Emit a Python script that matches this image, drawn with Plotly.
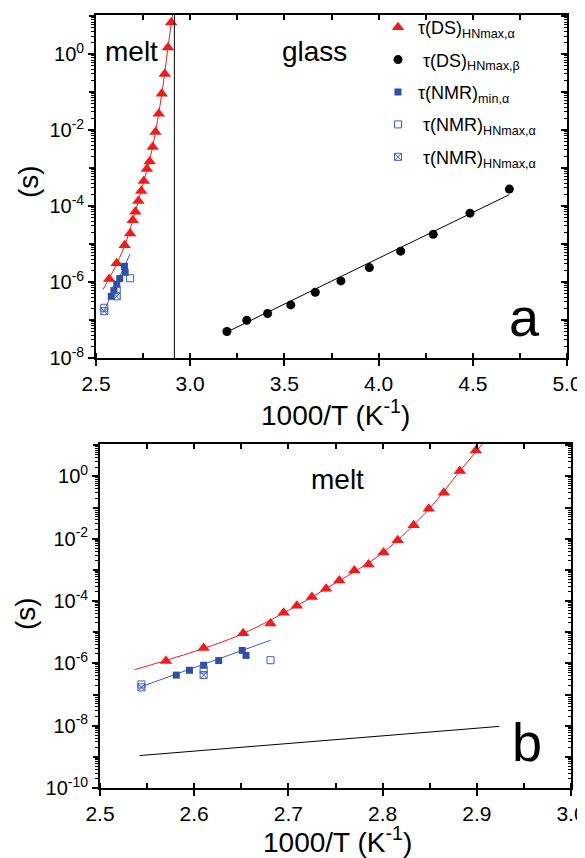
import plotly.graph_objects as go

# ---------------- data ----------------
# tau(DS) HN max, alpha process
ds_alpha_x = [2.570, 2.610, 2.652, 2.681, 2.695, 2.709, 2.725, 2.740, 2.754,
              2.770, 2.785, 2.801, 2.816, 2.833, 2.849, 2.865, 2.882, 2.899]
ds_alpha_tau = [1.2e-6, 3.1e-6, 9.3e-6, 1.9e-5, 4.2e-5, 7.1e-5, 1.35e-4, 2.5e-4, 4.6e-4,
                9.5e-4, 1.5e-3, 3.6e-3, 8.9e-3, 2.7e-2, 9.1e-2, 0.30, 1.5, 6.8]
# VFT fit curve for alpha
ds_alpha_fit_x = [2.537, 2.600, 2.650, 2.700, 2.750, 2.800, 2.850, 2.880, 2.906]
ds_alpha_fit_tau = [6.3e-7, 2.4e-6, 8.5e-6, 5.0e-5, 3.8e-4, 3.5e-3, 9.5e-2, 1.25, 11.0]

# tau(DS) HN max, beta process
ds_beta_x = [3.195, 3.300, 3.411, 3.534, 3.664, 3.800, 3.951, 4.117, 4.290, 4.485, 4.694]
ds_beta_tau = [5.0e-8, 9.8e-8, 1.48e-7, 2.5e-7, 5.4e-7, 1.07e-6, 2.4e-6, 6.5e-6,
               1.8e-5, 6.5e-5, 2.8e-4]
ds_beta_fit_x = [3.186, 4.694]
ds_beta_fit_tau = [4.6e-8, 2.0e-4]
# extrapolated Arrhenius line shown in panel b
ds_beta_ext_x = [2.542, 2.924]
ds_beta_ext_tau = [1.1e-9, 9.5e-9]

# tau(NMR) min, alpha
nmr_min_x = [2.581, 2.595, 2.610, 2.626, 2.651, 2.655]
nmr_min_tau = [4.2e-7, 6.0e-7, 8.7e-7, 1.23e-6, 2.6e-6, 1.8e-6]
nmr_fit_x = [2.544, 2.681]
nmr_fit_tau = [1.8e-7, 5.5e-6]

# tau(NMR) HN max, alpha (open squares)
nmr_hn_x = [2.544, 2.610, 2.681]
nmr_hn_tau = [2.1e-7, 6.3e-7, 1.26e-6]

# tau(NMR) HN max, alpha (crossed squares)
nmr_hn2_x = [2.544, 2.610]
nmr_hn2_tau = [1.7e-7, 4.2e-7]

# glass transition marker line in panel a
tg_x = 2.916

# tick labels
top_xticks = [2.5, 3.0, 3.5, 4.0, 4.5, 5.0]
bot_xticks = [2.5, 2.6, 2.7, 2.8, 2.9, 3.0]

legend_names = ["τ(DS)<sub>HNmax,α</sub>",
                " τ(DS)<sub>HNmax,β</sub>",
                "τ(NMR)<sub>min,α</sub>",
                " τ(NMR)<sub>HNmax,α</sub>",
                " τ(NMR)<sub>HNmax,α</sub>"]

# ---------------- styling ----------------
FONT = "Liberation Sans, Arial, sans-serif"
RED = "#f01c1c"
BLUE = "#2f4ea6"
BLUE_OPEN = "#3b5cc4"
OFF = 8                      # page body margin of the viewer
W, H = 585 - OFF, 858 - OFF  # figure fits the window


def px(x):
    return (x - OFF) / W


def py(y):
    return 1 - (y - OFF) / H


fig = go.Figure()


def add_panel(xa, ya, legend):
    # fit lines
    fig.add_trace(go.Scatter(x=ds_alpha_fit_x, y=ds_alpha_fit_tau, mode="lines",
                             line=dict(color=RED, width=1, shape="spline"),
                             xaxis=xa, yaxis=ya, showlegend=False, hoverinfo="skip"))
    fig.add_trace(go.Scatter(x=nmr_fit_x, y=nmr_fit_tau, mode="lines",
                             line=dict(color=BLUE_OPEN, width=1),
                             xaxis=xa, yaxis=ya, showlegend=False, hoverinfo="skip"))
    if xa == "x":
        fig.add_trace(go.Scatter(x=ds_beta_fit_x, y=ds_beta_fit_tau, mode="lines",
                                 line=dict(color="black", width=1),
                                 xaxis=xa, yaxis=ya, showlegend=False, hoverinfo="skip"))
    else:
        fig.add_trace(go.Scatter(x=ds_beta_ext_x, y=ds_beta_ext_tau, mode="lines",
                                 line=dict(color="black", width=1),
                                 xaxis=xa, yaxis=ya, showlegend=False, hoverinfo="skip"))
    # markers
    fig.add_trace(go.Scatter(x=ds_alpha_x, y=ds_alpha_tau, mode="markers", name=legend_names[0],
                             marker=dict(symbol="triangle-up", size=11, color=RED),
                             xaxis=xa, yaxis=ya, showlegend=legend, legendgroup="a"))
    fig.add_trace(go.Scatter(x=ds_beta_x, y=ds_beta_tau, mode="markers", name=legend_names[1],
                             marker=dict(symbol="circle", size=9, color="black"),
                             xaxis=xa, yaxis=ya, showlegend=legend, legendgroup="b"))
    fig.add_trace(go.Scatter(x=nmr_min_x, y=nmr_min_tau, mode="markers", name=legend_names[2],
                             marker=dict(symbol="square", size=7, color=BLUE),
                             xaxis=xa, yaxis=ya, showlegend=legend, legendgroup="c"))
    fig.add_trace(go.Scatter(x=nmr_hn_x, y=nmr_hn_tau, mode="markers", name=legend_names[3],
                             marker=dict(symbol="square-open", size=7, color=BLUE_OPEN,
                                         line=dict(width=1)),
                             xaxis=xa, yaxis=ya, showlegend=legend, legendgroup="d"))
    fig.add_trace(go.Scatter(x=nmr_hn2_x, y=nmr_hn2_tau, mode="markers", name=legend_names[4],
                             marker=dict(symbol="square-x-open", size=7, color=BLUE_OPEN,
                                         line=dict(width=1)),
                             xaxis=xa, yaxis=ya, showlegend=legend, legendgroup="e"))


add_panel("x", "y", True)
add_panel("x2", "y2", False)

# vertical line (panel a)
fig.add_trace(go.Scatter(x=[tg_x, tg_x], y=[1e-8, 10 ** 1.03], mode="lines",
                         line=dict(color="black", width=1), xaxis="x", yaxis="y",
                         showlegend=False, hoverinfo="skip"))

# empty traces so the overlay tick axes are drawn
for xa, ya in [("x3", "y"), ("x", "y3"), ("x4", "y2"), ("x2", "y4"),
               ("x", "y5"), ("x2", "y6")]:
    fig.add_trace(go.Scatter(x=[None], y=[None], xaxis=xa, yaxis=ya,
                             showlegend=False, hoverinfo="skip"))

# ---------------- axes ----------------
top_dom_x = [px(96), px(567)]
top_dom_y = [py(358), py(15)]
bot_dom_x = [px(100), px(571)]
bot_dom_y = [py(788), py(444)]

top_yr = [-8, 1.03]
bot_yr = [-10, 1.04]


def sup_label(e):
    return "10<sup>%d</sup>" % e


def minor_vals(emin, emax):
    return [m * 10.0 ** e for e in range(emin, emax + 1) for m in range(2, 10)]


def ylog_axis(dom, rng, emin, emax, anchor):
    evens = [e for e in range(emin, emax + 1) if e % 2 == 0]
    return dict(type="log", domain=dom, range=rng, anchor=anchor, automargin=False,
                tickmode="array", tickvals=[10.0 ** e for e in evens],
                ticktext=[sup_label(e) for e in evens],
                ticks="outside", ticklen=6, tickwidth=1.5, tickcolor="black",
                minor=dict(tickmode="array", tickvals=minor_vals(emin, emax), ticks="outside",
                           ticklen=3, tickwidth=1, tickcolor="black"),
                showline=True, linecolor="black", linewidth=1.8, mirror=True,
                showgrid=False, zeroline=False, ticklabeloverflow="allow",
                tickfont=dict(family=FONT, size=20, color="black"))


def ylog_odd(dom, rng, emin, emax, over, anchor):
    odds = [e for e in range(emin, emax + 1) if e % 2 != 0]
    return dict(type="log", domain=dom, range=rng, overlaying=over, side="left",
                anchor=anchor, automargin=False, tickmode="array",
                tickvals=[10.0 ** e for e in odds], showticklabels=False,
                ticks="outside", ticklen=6, tickwidth=1.5, tickcolor="black",
                showline=False, showgrid=False, zeroline=False)


def ylog_mirror(dom, rng, emin, emax, over, anchor):
    major = [10.0 ** e for e in range(emin, emax + 1)]
    return dict(type="log", domain=dom, range=rng, overlaying=over, side="right",
                anchor=anchor, automargin=False, tickmode="array", tickvals=major,
                showticklabels=False,
                ticks="inside", ticklen=6, tickwidth=1.5, tickcolor="black",
                minor=dict(tickmode="array", tickvals=minor_vals(emin, emax), ticks="inside",
                           ticklen=3, tickwidth=1, tickcolor="black"),
                showline=False, showgrid=False, zeroline=False)


def x_axis(dom, ticks_list, anchor):
    rng = [ticks_list[0], ticks_list[-1]]
    step = ticks_list[1] - ticks_list[0]
    return dict(domain=dom, range=rng, anchor=anchor, automargin=False,
                tickmode="array", tickvals=ticks_list,
                ticktext=["%.1f" % v for v in ticks_list],
                ticks="outside", ticklen=6, tickwidth=1.5, tickcolor="black",
                minor=dict(tickmode="linear", dtick=step / 2, tick0=rng[0], ticks="inside",
                           ticklen=5, tickwidth=1.5, tickcolor="black"),
                showline=True, linecolor="black", linewidth=1.8, mirror=True,
                showgrid=False, zeroline=False, ticklabeloverflow="allow",
                tickfont=dict(family=FONT, size=21, color="black"))


def x_mirror(dom, ticks_list, over, anchor):
    rng = [ticks_list[0], ticks_list[-1]]
    step = ticks_list[1] - ticks_list[0]
    return dict(domain=dom, range=rng, overlaying=over, side="top", anchor=anchor,
                automargin=False, tickmode="array", tickvals=ticks_list,
                showticklabels=False,
                ticks="inside", ticklen=5, tickwidth=1.5, tickcolor="black",
                minor=dict(tickmode="linear", dtick=step / 2, tick0=rng[0], ticks="inside",
                           ticklen=5, tickwidth=1.5, tickcolor="black"),
                showline=False, showgrid=False, zeroline=False)


fig.update_layout(
    width=W, height=H,
    margin=dict(l=0, r=0, t=0, b=0, autoexpand=False),
    paper_bgcolor="white", plot_bgcolor="white",
    font=dict(family=FONT, color="black"),
    xaxis=x_axis(top_dom_x, top_xticks, "y"),
    yaxis=ylog_axis(top_dom_y, top_yr, -8, 1, "x"),
    xaxis2=x_axis(bot_dom_x, bot_xticks, "y2"),
    yaxis2=ylog_axis(bot_dom_y, bot_yr, -10, 1, "x2"),
    xaxis3=x_mirror(top_dom_x, top_xticks, "x", "y"),
    yaxis3=ylog_mirror(top_dom_y, top_yr, -8, 1, "y", "x"),
    xaxis4=x_mirror(bot_dom_x, bot_xticks, "x2", "y2"),
    yaxis4=ylog_mirror(bot_dom_y, bot_yr, -10, 1, "y2", "x2"),
    yaxis5=ylog_odd(top_dom_y, top_yr, -8, 1, "y", "x"),
    yaxis6=ylog_odd(bot_dom_y, bot_yr, -10, 1, "y2", "x2"),
    legend=dict(x=px(378), y=py(9), xanchor="left", yanchor="top",
                bgcolor="rgba(0,0,0,0)", font=dict(family=FONT, size=18, color="black"),
                tracegroupgap=6, traceorder="grouped", itemsizing="trace"),
    showlegend=True,
)

ann = [
    dict(text="melt", x=2.686, y=0.06, xref="x", yref="y", size=28),
    dict(text="glass", x=3.662, y=0.06, xref="x", yref="y", size=28),
    dict(text="a", x=4.777, y=-6.93, xref="x", yref="y", size=54),
    dict(text="melt", x=2.7516, y=-0.11, xref="x2", yref="y2", size=28),
    dict(text="b", x=2.953, y=-8.51, xref="x2", yref="y2", size=54),
]
for a in ann:
    fig.add_annotation(text=a["text"], x=a["x"], y=a["y"], xref=a["xref"], yref=a["yref"],
                       showarrow=False, xanchor="center", yanchor="middle",
                       font=dict(family=FONT, size=a["size"], color="black"))

# axis titles
for txt, x, y, ang in [("1000/T (K<sup>-1</sup>)", px(335), py(413), 0),
                       ("1000/T (K<sup>-1</sup>)", px(338), py(840), 0),
                       ("(s)", px(28), py(182), -90),
                       ("(s)", px(25), py(614), -90)]:
    fig.add_annotation(text=txt, x=x, y=y, xref="paper", yref="paper", showarrow=False,
                       xanchor="center", yanchor="middle", textangle=ang,
                       font=dict(family=FONT, size=28, color="black"))

fig.write_html("out.html")
